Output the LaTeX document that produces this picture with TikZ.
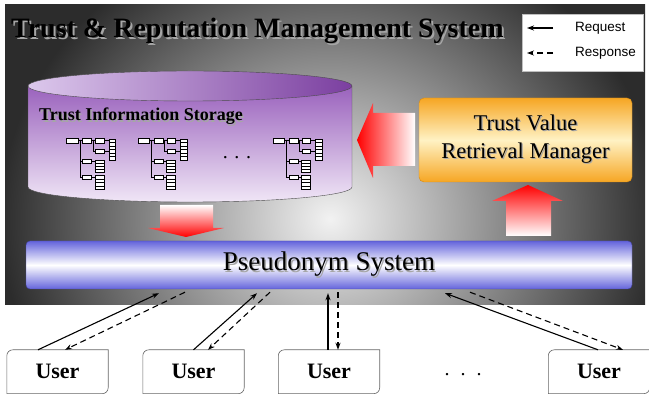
\documentclass[tikz,border=0pt]{standalone}
\usepackage{fontspec}
\setmainfont{Liberation Serif}
\newfontfamily\legendfont{Liberation Sans}
\usetikzlibrary{positioning, calc, arrows.meta}

\definecolor{panelgray}{HTML}{2C2C2C}
\definecolor{panellight}{HTML}{F2F2F2}
\definecolor{cylrim}{HTML}{DCC8EC}
\definecolor{cylpurple}{HTML}{7B3FA0}
\definecolor{cyltop}{HTML}{9A62BD}
\definecolor{cylbottom}{HTML}{F0E6F6}
\definecolor{mgrorange}{HTML}{F6A623}
\definecolor{mgrlight}{HTML}{FFF2C4}
\definecolor{mgredge}{HTML}{D88A10}
\definecolor{pseudoblue}{HTML}{6464DC}
\definecolor{pseudoedge}{HTML}{4444A8}

\newcommand\shadowed[2][1.6pt]{\leavevmode\rlap{\kern#1\raisebox{-#1}{\textcolor{black!35}{#2}}}#2}

\tikzset{
  treebox/.style={draw=black, fill=white, line width=0.6pt},
  treeline/.style={draw=black, line width=0.6pt},
  infotree/.pic={
    \draw[treeline] (11.6,-2.7) -- (42.3,-2.7);
    \draw[treeline] (13.3,-2.7) -- (13.3,-39.3);
    \draw[treeline] (13.3,-23.5) -- (28.3,-23.5);
    \draw[treeline] (13.3,-39.3) -- (28.3,-39.3);
    \draw[treeline] (26.6,-2.7) -- (26.6,-13.3) -- (42.3,-13.3);
    \draw[treebox] (0,0) rectangle (11.6,-5.3);
    \draw[treebox] (16,0) rectangle (25,-5.3);
    \draw[treebox] (29,0) rectangle (37.6,-5.3);
    \draw[treebox] (29,-11.3) rectangle (37.6,-15.3);
    \draw[treebox] (16,-21.7) rectangle (25,-25.3);
    \draw[treebox] (16,-37.3) rectangle (25,-41.3);
    \foreach \k in {0,...,5}
      \draw[treebox] (42.3,-1.3-3.45*\k) rectangle ++(6.7,-3.45);
    \foreach \k in {0,...,3} {
      \draw[treebox] (28.3,-22-3.2*\k) rectangle ++(9.3,-3.2);
      \draw[treebox] (28.3,-37.7-3.4*\k) rectangle ++(9.3,-3.4);
    }
  },
}

\begin{document}
\begin{tikzpicture}[x=1pt, y=1pt, >={Stealth[length=7pt,width=5pt]},
    request/.style={->, line width=1.1pt},
    response/.style={request, dash pattern=on 6pt off 4pt},
    legendtext/.style={font=\legendfont\fontsize{13.5}{15}\selectfont, inner sep=1pt, anchor=west},
    mgrbox/.style={draw=mgredge, rounded corners=5pt, top color=mgrorange, bottom color=mgrorange, middle color=mgrlight,
      minimum width=213pt, minimum height=84pt, align=center, font=\fontsize{22.5}{28}\selectfont},
    pseudobar/.style={draw=pseudoedge, rounded corners=4pt, top color=pseudoblue, bottom color=pseudoblue, middle color=white,
      minimum width=606pt, minimum height=48pt, font=\fontsize{27}{30}\selectfont},
    userbox/.style={minimum width=101pt, minimum height=43.5pt, inner sep=0pt, font=\fontsize{22}{24}\selectfont\bfseries},
    userline/.style={draw=black!60, line width=0.6pt}]

    \useasboundingbox (0,0) rectangle (649,394);

    % panel of the management system
    \begin{scope}
        \clip (5,89) rectangle (645,389);
        \shade[inner color=panellight, outer color=panelgray] (0,-125) rectangle (660,475);
    \end{scope}

    \node[font=\fontsize{28}{30}\selectfont\bfseries, anchor=west, inner sep=0pt] (title) at (11,362)
        {\shadowed[2pt]{Trust \& Reputation Management System}};

    % legend
    \node[draw=black!25, fill=white, minimum width=121pt, minimum height=57pt] (legend) at (582.5,351.5) {};
    \node[legendtext] (reqtext) at (574,366) {Request};
    \node[legendtext] (resptext) at (574,341) {Response};
    \coordinate (reqtip) at (527,366);
    \coordinate (resptip) at (527,341);
    \draw[request] ([xshift=-21pt]reqtext.west) -- (reqtip);
    \draw[response] ([xshift=-21pt]resptext.west) -- (resptip);

    % storage cylinder
    \shade[top color=cyltop, bottom color=cylbottom, draw=black!70] (28,308) -- (28,207)
        arc[start angle=180, end angle=360, x radius=162, y radius=15] -- (352,308) -- cycle;
    \shade[left color=cylrim, right color=cylpurple, draw=black!70] (190,308) ellipse[x radius=162, y radius=15];
    \node[font=\fontsize{18}{20}\selectfont\bfseries, anchor=west, inner sep=0pt] (storage) at (39,277)
        {\shadowed[1.4pt]{Trust Information Storage}};
    \pic at (66.7,256) {infotree};
    \pic at (138,256) {infotree};
    \pic at (273,256) {infotree};
    \node[font=\fontsize{20}{20}\selectfont] (treedots) at (237,236) {. . .};

    \node[mgrbox] (mgr) at (525.5,254) {\shadowed[1.2pt]{Trust Value}\\\shadowed[1.2pt]{Retrieval Manager}};
    \node[pseudobar] (pseudo) at (329,129) {\shadowed[1.6pt]{Pseudonym System}};

    % block arrows
    \shade[left color=red, right color=white] (357,254) -- (373,291) -- (373,281) -- (415,281)
        -- (415,228) -- (373,228) -- (373,216) -- cycle;
    \shade[top color=white, bottom color=red] (160,189) -- (213,189) -- (213,166) -- (224,166)
        -- (186,157) -- (148,166) -- (160,166) -- cycle;
    \shade[top color=red, bottom color=white] (506,158) -- (506,193) -- (492,193) -- (528,209)
        -- (563,193) -- (551,193) -- (551,158) -- cycle;

    % users
    \foreach \n/\x in {1/57.5, 2/193.5, 3/329, 4/599}
        \node[userbox] (u\n) at (\x,22.25) {User};
    \foreach \n in {1,...,4}
        \draw[userline] (u\n.south west) -- ([yshift=-6pt]u\n.north west)
            arc[start angle=180, end angle=90, radius=6pt] -- (u\n.north east)
            -- ([yshift=6pt]u\n.south east) arc[start angle=0, end angle=-90, radius=6pt] -- cycle;
    \node[font=\fontsize{20}{20}\selectfont] (udots) at (463,19) {.\hspace{11pt}.\hspace{11pt}.};

    \draw[request] ([xshift=-19.5pt]u1.north) -- ([xshift=-170pt,yshift=-4pt]pseudo.south);
    \draw[response] ([xshift=-144pt,yshift=-3pt]pseudo.south) -- ([xshift=7.5pt]u1.north);
    \draw[request] (u2.north) -- ([xshift=-72pt,yshift=-4pt]pseudo.south);
    \draw[response] ([xshift=-59pt,yshift=-3pt]pseudo.south) -- ([xshift=14.5pt]u2.north);
    \draw[request] ([xshift=-1pt]u3.north) -- ([xshift=-1pt,yshift=-4pt]pseudo.south);
    \draw[response] ([xshift=9pt,yshift=-3pt]pseudo.south) -- ([xshift=9pt]u3.north);
    \draw[request] ([xshift=-1pt]u4.north) -- ([xshift=116pt,yshift=-4pt]pseudo.south);
    \draw[response] ([xshift=141pt,yshift=-3pt]pseudo.south) -- ([xshift=24pt]u4.north);
\end{tikzpicture}
\end{document}
